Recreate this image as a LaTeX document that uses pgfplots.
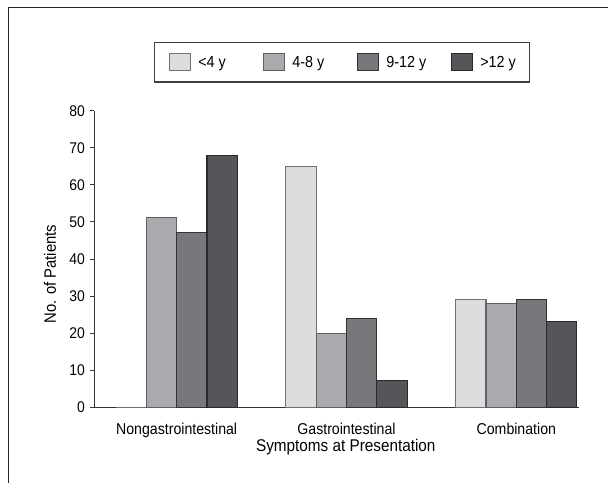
\documentclass[border=0pt]{standalone}
\usepackage{fontspec}
\setmainfont{Liberation Sans}[FakeStretch=0.9]
\usepackage{pgfplots}
\pgfplotsset{compat=1.18}
\definecolor{cA}{HTML}{DCDDDF}
\definecolor{cB}{HTML}{A9AAAD}
\definecolor{cC}{HTML}{77787B}
\definecolor{cD}{HTML}{55565A}
\definecolor{eA}{HTML}{707070}
\definecolor{eB}{HTML}{606060}
\definecolor{eC}{HTML}{333333}
\definecolor{eD}{HTML}{2A2A2A}
\begin{document}
\begin{tikzpicture}
\path[use as bounding box] (0,0) rectangle (608pt,483pt);
\draw[line width=1.5pt, black!85] (8.5pt,0pt) -- (8.5pt,475.5pt) -- (608pt,475.5pt);
\begin{axis}[
  at={(94.3pt,75.7pt)}, anchor=south west,
  scale only axis, width=484.2pt, height=296.6pt,
  ybar=0pt, bar width=30.3pt,
  xmin=-0.485, xmax=2.366, ymin=0, ymax=80,
  enlargelimits=false, clip=false,
  axis x line*=bottom, axis y line*=left,
  axis line style={-, line width=1.3pt, black!80},
  xtick={0,1,2},
  xticklabels={Nongastrointestinal,Gastrointestinal,Combination},
  x tick style={draw=none},
  ytick={0,10,...,80},
  y tick style={line width=1pt, black!80},
  tick align=outside, major tick length=4.3pt,
  /pgf/number format/assume math mode=true,
  y tick label style={font=\fontsize{15.5pt}{18pt}\selectfont, inner xsep=5pt, inner ysep=0pt},
  x tick label style={font=\fontsize{15.7pt}{18pt}\selectfont, anchor=base, yshift=-22.7pt},
  xlabel={Symptoms at Presentation},
  xlabel style={font=\fontsize{17pt}{20pt}\selectfont, at={(axis description cs:0.5194,-0.1497)}, anchor=base},
  ylabel={No. of Patients},
  ylabel style={font=\fontsize{16.5pt}{20pt}\selectfont, at={(axis description cs:-0.0791,0.449)}, anchor=base},
  legend columns=4,
  legend cell align=left,
  legend style={at={(axis description cs:0.1233,1.2316)}, anchor=north west,
    draw=black!75, line width=1.2pt, inner xsep=14pt, inner ysep=10.2pt,
    font=\fontsize{16pt}{19pt}\selectfont,
    nodes={inner sep=0pt, text height=11.5pt, text depth=4.5pt},
    /tikz/every odd column/.append style={column sep=7.7pt},
    /tikz/every even column/.append style={column sep=6pt}},
  legend image code/.code={\draw[#1, line width=1pt] (0pt,-6.8pt) rectangle (21pt,10.5pt);},
]
\addplot[fill=cA, draw=eA, line width=1.1pt] coordinates {(0,0) (1,65) (2,29)};
\addplot[fill=cB, draw=eB, line width=1.1pt] coordinates {(0,51.3) (1,20) (2,28)};
\addplot[fill=cC, draw=eC, line width=1.1pt] coordinates {(0,47.2) (1,24) (2,29)};
\addplot[fill=cD, draw=eD, line width=1.1pt] coordinates {(0,68) (1,7.3) (2,23.2)};
\legend{\makebox[58.3pt][l]{<4 y},\makebox[58.3pt][l]{4-8 y},\makebox[58.3pt][l]{9-12 y},\makebox[35.3pt][l]{>12 y}}
\end{axis}
\end{tikzpicture}
\end{document}
